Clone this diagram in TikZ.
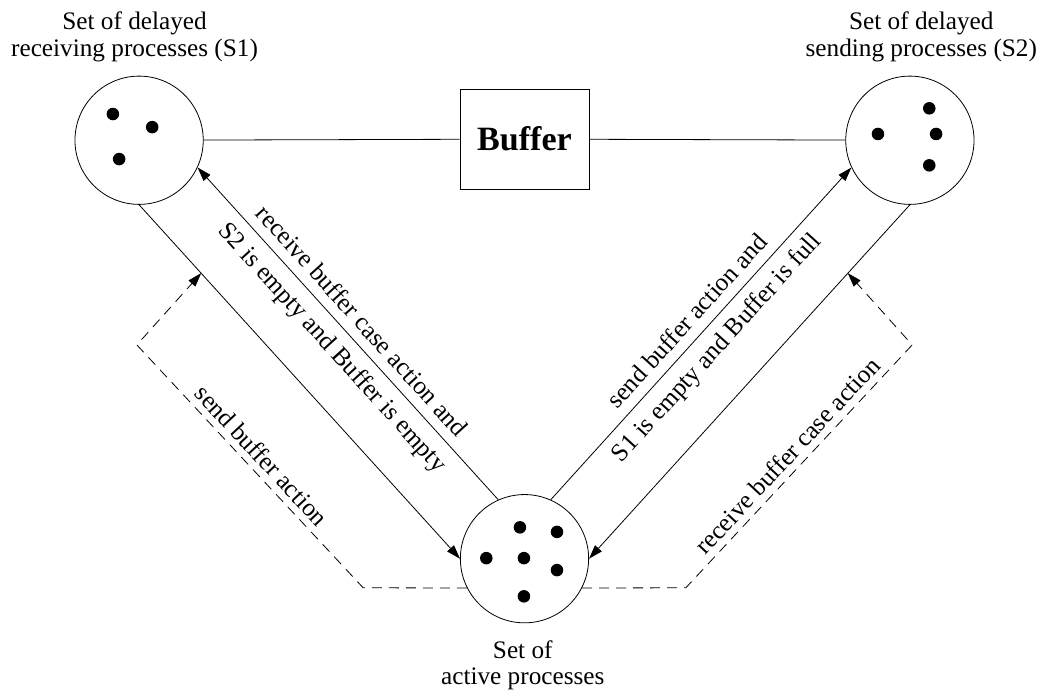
\documentclass[tikz,border=0pt]{standalone}
\usepackage{fontspec}
\setmainfont{Liberation Serif}
\usetikzlibrary{arrows.meta}

\begin{document}
\begin{tikzpicture}[pool/.style={draw, circle, minimum size=2.25cm, inner sep=0pt},
        box/.style={draw, minimum width=2.26cm, minimum height=1.75cm, font=\fontsize{17}{20}\selectfont\bfseries},
        arr/.style={-{Triangle[length=7pt, width=4.5pt]}},
        cond/.style={dash pattern=on 5pt off 3.5pt},
        lbl/.style={align=center},
        side/.style={sloped, inner sep=5pt},
        font=\fontsize{12.6}{13.4}\selectfont]
        \useasboundingbox (0, 0) rectangle (18.33, -12.16);

        \node[pool] (s1) at (2.44, -2.46) {};
        \node[pool] (s2) at (15.96, -2.46) {};
        \node[pool] (act) at (9.2, -9.8) {};
        \node[box] (buf) at (9.2, -2.44) {Buffer};

        \fill (1.98, -2.0) circle (0.11);
        \fill (2.67, -2.23) circle (0.11);
        \fill (2.09, -2.79) circle (0.11);

        \fill (16.3, -1.9) circle (0.11);
        \fill (15.4, -2.35) circle (0.11);
        \fill (16.42, -2.35) circle (0.11);
        \fill (16.3, -2.9) circle (0.11);

        \fill (9.12, -9.25) circle (0.11);
        \fill (9.77, -9.33) circle (0.11);
        \fill (8.53, -9.79) circle (0.11);
        \fill (9.19, -9.79) circle (0.11);
        \fill (9.77, -10.0) circle (0.11);
        \fill (9.19, -10.46) circle (0.11);

        \node[lbl] (t1) at (2.36, -0.64) {Set of delayed\\receiving processes (S1)};
        \node[lbl] (t2) at (16.16, -0.64) {Set of delayed\\sending processes (S2)};
        \node[lbl] (t3) at (9.17, -11.67) {Set of\\active processes};

        \draw (s1) -- (buf) -- (s2);

        \draw[arr] (s1.south) -- (act.west);
        \draw[arr] (act.114) -- node[side, above] {receive buffer case action and}
            node[side, below] {S2 is empty and Buffer is empty} (s1.-25);
        \draw[arr] (act.66) -- node[side, above] {send buffer action and}
            node[side, below] {S1 is empty and Buffer is full} (s2.205);
        \draw[arr] (s2.south) -- (act.east);

        \coordinate (dl1) at (6.37, -10.31);
        \coordinate (dl2) at (2.4, -6.05);
        \coordinate (dl3) at (3.53, -4.79);
        \coordinate (dr1) at (12.03, -10.31);
        \coordinate (dr2) at (16.0, -6.05);
        \coordinate (dr3) at (14.87, -4.79);

        \draw[cond, arr] (act.207) -- (dl1) -- node[sloped, above] {send buffer action} (dl2) -- (dl3);
        \draw[cond, arr] (act.333) -- (dr1) -- node[sloped, above] {receive buffer case action} (dr2) -- (dr3);
    \end{tikzpicture}
\end{document}
